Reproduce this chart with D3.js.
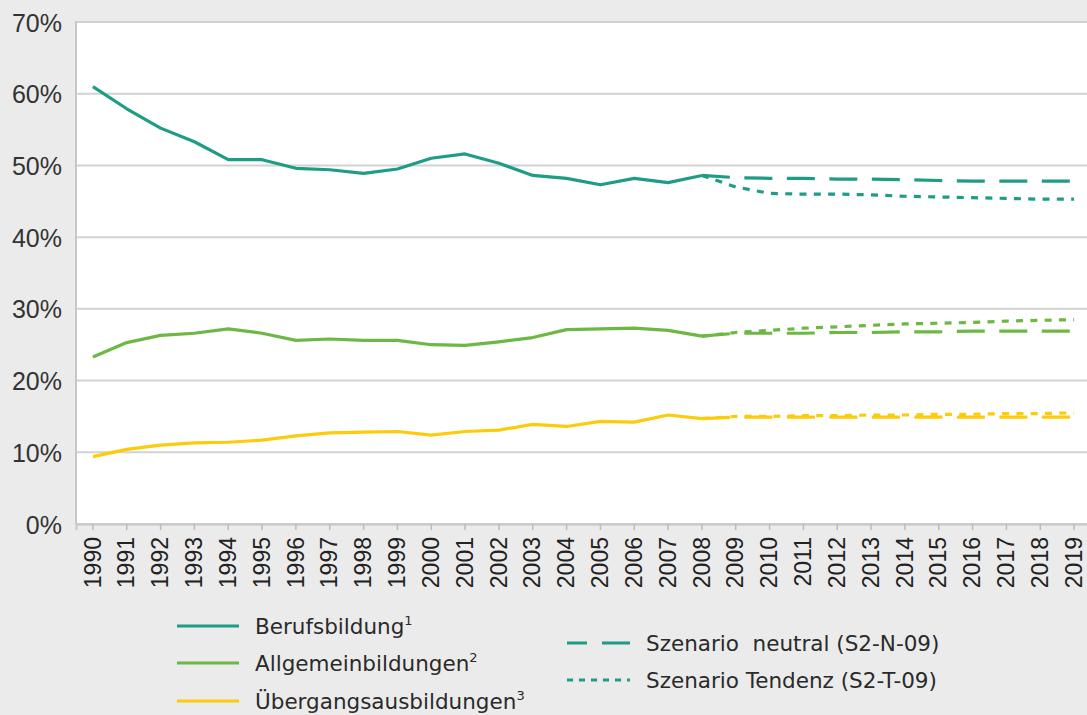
<!DOCTYPE html>
<html><head><meta charset="utf-8">
<script src="https://cdn.jsdelivr.net/npm/d3@7/dist/d3.min.js"></script>
<style>
html,body{margin:0;padding:0;background:#ebebeb;}
svg{display:block;font-family:"DejaVu Sans",sans-serif;}
</style></head>
<body>
<script>
const years = d3.range(1990, 2020).map(String);
const yTicks = [0, 10, 20, 30, 40, 50, 60, 70];
const histYears = d3.range(1990, 2009).map(String);
const berufsbildung = [61.0,57.9,55.2,53.3,50.8,50.8,49.6,49.4,48.9,49.5,51.0,51.6,50.3,48.6,48.2,47.3,48.2,47.6,48.6];
const allgemeinbildung = [23.3,25.3,26.3,26.6,27.2,26.6,25.6,25.8,25.6,25.6,25.0,24.9,25.4,26.0,27.1,27.2,27.3,27.0,26.2];
const uebergang = [9.4,10.4,11.0,11.3,11.4,11.7,12.3,12.7,12.8,12.9,12.4,12.9,13.1,13.9,13.6,14.3,14.2,15.2,14.7];
const scenYears = d3.range(2008, 2020).map(String);
const berufNeutral = [48.6,48.3,48.2,48.2,48.1,48.1,48.0,47.9,47.8,47.8,47.8,47.8];
const berufTendenz = [48.6,47.0,46.1,46.0,46.0,45.9,45.7,45.6,45.5,45.4,45.3,45.3];
const allgNeutral = [26.2,26.6,26.6,26.6,26.7,26.7,26.8,26.8,26.9,26.9,26.9,26.9];
const allgTendenz = [26.2,26.7,27.0,27.3,27.5,27.7,27.9,28.0,28.1,28.3,28.4,28.5];
const uebNeutral = [14.7,14.9,14.9,14.9,14.9,14.9,14.9,14.9,14.9,14.9,14.9,14.9];
const uebTendenz = [14.7,15.0,15.0,15.1,15.1,15.2,15.2,15.3,15.3,15.4,15.4,15.5];
const legendLabels = ["Berufsbildung","Allgemeinbildungen","Übergangsausbildungen"];
const legendSups = ["1","2","3"];
const scenLabels = ["Szenario  neutral (S2-N-09)","Szenario Tendenz (S2-T-09)"];

const colors = {teal:"#1f9c84", green:"#6cb843", yellow:"#fccb0a"};
const W = 1087, H = 715;
const svg = d3.select("body").append("svg").attr("width", W).attr("height", H);
svg.append("rect").attr("width", W).attr("height", H).attr("fill", "#ebebeb");

const pLeft = 76, pTop = 22, pBottom = 524, pRight = 1091;
const x = d3.scaleBand().domain(years).range([pLeft, pRight]);
const cx = d => x(d) + x.bandwidth()/2;
const y = d3.scaleLinear().domain([0, 70]).range([pBottom, pTop]);

svg.append("rect").attr("x", pLeft).attr("y", pTop).attr("width", W-pLeft).attr("height", pBottom-pTop).attr("fill", "#fff");

// gridlines
svg.append("g").selectAll("line").data(yTicks).join("line")
  .attr("x1", pLeft).attr("x2", W).attr("y1", d=>y(d)).attr("y2", d=>y(d))
  .attr("stroke", "#d2d2d2").attr("stroke-width", 2);
svg.append("line").attr("x1", pLeft).attr("x2", pLeft).attr("y1", pTop-1).attr("y2", pBottom)
  .attr("stroke", "#c8c8c8").attr("stroke-width", 2);

// y axis labels
const yAxis = svg.append("g").attr("transform", `translate(${pLeft},0)`)
  .call(d3.axisLeft(y).tickValues(yTicks).tickSize(0).tickPadding(14).tickFormat(d => d + "%"));
yAxis.select(".domain").remove();
yAxis.selectAll("text").attr("font-size", 25).attr("fill", "#333").attr("font-family", "Liberation Sans, Arial, sans-serif").attr("dy", "0.36em");

// x axis
const xAxis = svg.append("g").attr("transform", `translate(0,${pBottom})`)
  .call(d3.axisBottom(x).tickSize(6).tickPadding(4));
xAxis.select(".domain").attr("stroke", "#c8c8c8").attr("stroke-width", 2);
xAxis.selectAll(".tick line").attr("stroke", "#bbb").attr("stroke-width", 1.5);
xAxis.selectAll("text").attr("font-size", 23).attr("fill", "#222").attr("font-family", "Liberation Sans, Arial, sans-serif")
  .attr("transform", "rotate(-90)").attr("text-anchor", "end").attr("dx", "0").attr("dy", "0.33em").attr("x", -13).attr("y", 0);

const line = d3.line().x(d => cx(d[0])).y(d => y(d[1]));
function draw(ys, vals, color, dash) {
  svg.append("path").datum(ys.map((k, i) => [k, vals[i]]))
    .attr("d", line).attr("fill", "none").attr("stroke", color).attr("stroke-width", 3.2)
    .attr("stroke-dasharray", dash || null).attr("stroke-linejoin", "round");
}
draw(scenYears, berufNeutral, colors.teal, "28,14.5");
draw(scenYears, berufTendenz, colors.teal, "7,7.3");
draw(scenYears, allgNeutral, colors.green, "28,14.5");
draw(scenYears, allgTendenz, colors.green, "7,7.3");
draw(scenYears, uebNeutral, colors.yellow, "28,14.5");
draw(scenYears, uebTendenz, colors.yellow, "7,7.3");
draw(histYears, berufsbildung, colors.teal);
draw(histYears, allgemeinbildung, colors.green);
draw(histYears, uebergang, colors.yellow);

// legend
const lg = svg.append("g");
const lgCols = [colors.teal, colors.green, colors.yellow];
const lgY = [626, 663, 701];
legendLabels.forEach((lab, i) => {
  lg.append("line").attr("x1", 177).attr("x2", 239).attr("y1", lgY[i]).attr("y2", lgY[i])
    .attr("stroke", lgCols[i]).attr("stroke-width", 3.2);
  const t = lg.append("text").attr("x", 255).attr("y", lgY[i] + 8).attr("font-size", 21.5).attr("fill", "#2a2a2a");
  t.append("tspan").text(lab);
  t.append("tspan").text(legendSups[i]).attr("font-size", 13).attr("dy", -9);
});
const sY = [643, 680];
lg.append("line").attr("x1", 567).attr("x2", 630).attr("y1", sY[0]).attr("y2", sY[0])
  .attr("stroke", colors.teal).attr("stroke-width", 3.2).attr("stroke-dasharray", "20,15,28");
lg.append("line").attr("x1", 567).attr("x2", 630).attr("y1", sY[1]).attr("y2", sY[1])
  .attr("stroke", colors.teal).attr("stroke-width", 3.2).attr("stroke-dasharray", "6,6");
scenLabels.forEach((lab, i) => {
  lg.append("text").attr("x", 646).attr("y", sY[i] + 8).attr("font-size", 21.5).attr("fill", "#2a2a2a")
    .attr("xml:space", "preserve").style("white-space", "pre").text(lab);
});
</script>
</body></html>
